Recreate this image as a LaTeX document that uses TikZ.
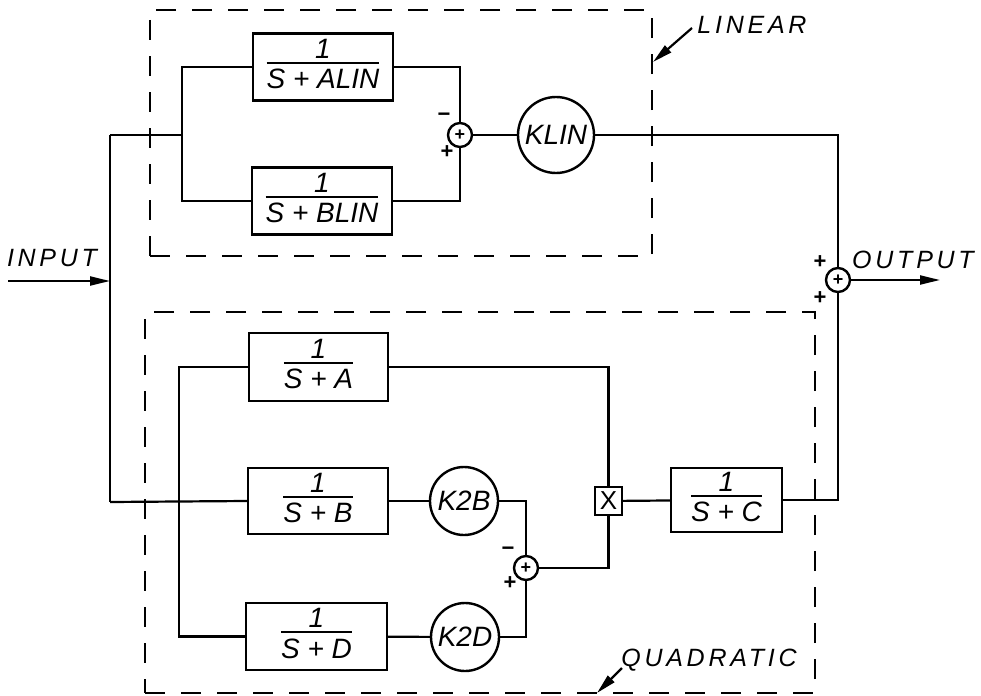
\documentclass[tikz,border=0pt]{standalone}
\usepackage{fontspec}
\setmainfont{Liberation Sans}
\newfontfamily\labfont[LetterSpace=15]{Liberation Sans}
\usetikzlibrary{arrows.meta}
\setlength{\arrayrulewidth}{1pt}
\newcommand{\frc}[1]{\begin{tabular}{@{}c@{}}1\\[-3pt]\hline\rule{0pt}{12.5pt}#1\end{tabular}}
\begin{document}
\begin{tikzpicture}[x=0.5pt,y=-0.5pt,
  wire/.style={line width=1.1pt},
  blk/.style={draw,line width=1.2pt,inner sep=0pt,font=\fontsize{14}{16}\selectfont\itshape},
  gain/.style={draw,circle,line width=1.2pt,inner sep=0pt,minimum size=#1,font=\fontsize{14}{16}\selectfont\itshape},
  sumj/.style={draw,circle,line width=1.2pt,inner sep=0pt,minimum size=12pt,font=\fontsize{9}{9}\selectfont\bfseries},
  sgn/.style={inner sep=0pt,font=\fontsize{11}{11}\selectfont\bfseries},
  grp/.style={draw,dash pattern=on 10pt off 8pt,line width=1.1pt,inner sep=0pt},
  lab/.style={inner sep=0pt,font=\labfont\fontsize{12.5}{14}\selectfont\itshape},
  arr/.style={-{Triangle[length=10pt,width=4.5pt]},line width=1.1pt}]
\useasboundingbox (0,0) rectangle (981,696);

% group frames
\node[grp,minimum width=251pt,minimum height=123pt] (lin) at (401,133) {};
\node[grp,minimum width=335pt,minimum height=190.5pt] (quad) at (480,502.5) {};

% linear part
\node[blk,minimum width=70pt,minimum height=33.5pt] (alin) at (323,67) {\frc{S + ALIN}};
\node[blk,minimum width=70pt,minimum height=33.5pt] (blin) at (322,201) {\frc{S + BLIN}};
\node[sumj] (s1) at (460,135) {+};
\node[gain=38pt] (klin) at (556,135) {KLIN};
\node[sgn] (s1m) at (444,117) {−};
\node[sgn] (s1p) at (447,152) {+};

% quadratic part
\node[blk,minimum width=69.5pt,minimum height=34pt] (fa) at (318.5,367) {\frc{S + A}};
\node[blk,minimum width=70pt,minimum height=33pt] (fb) at (318,501) {\frc{S + B}};
\node[blk,minimum width=70.5pt,minimum height=33.5pt] (fd) at (316.5,636.5) {\frc{S + D}};
\node[gain=34pt] (k2b) at (464,501) {K2B};
\node[gain=34pt] (k2d) at (465,637) {K2D};
\node[sumj] (s2) at (526,568) {+};
\node[sgn] (s2m) at (508,551) {−};
\node[sgn] (s2p) at (510,583) {+};
\node[blk,minimum width=13.5pt,minimum height=14pt,font=\fontsize{13}{13}\selectfont] (mx) at (608.5,501) {X};
\node[blk,minimum width=55.5pt,minimum height=32pt] (fc) at (726.5,500) {\frc{S + C}};

% output summer
\node[sumj] (s3) at (838,280) {+};
\node[sgn] (s3a) at (820,262) {+};
\node[sgn] (s3b) at (820,298) {+};

% labels
\node[lab] (inlab) at (52,258) {INPUT};
\node[lab] (outlab) at (913,260) {OUTPUT};
\node[lab] (linlab) at (752,25) {LINEAR};
\node[lab] (quadlab) at (709,660) {QUADRATIC};

% coordinates
\coordinate (inL) at (8,281);
\coordinate (inJ) at (110,281);
\coordinate (top) at (110,135);
\coordinate (bot) at (110,502);
\coordinate (br1) at (182,135);
\coordinate (br2) at (179,502);
\coordinate (outR) at (940,280);
\coordinate (linA) at (692,28);
\coordinate (linB) at (653,62);
\coordinate (quadA) at (622,668);
\coordinate (quadB) at (597,693);

% connectors
\draw[arr] (inL) -- (inJ);
\draw[wire] (top) -- (bot);
\draw[wire] (top) -- (br1);
\draw[wire] (alin.west) -| (br1) |- (blin.west);
\draw[wire] (alin.east) -| (s1.north);
\draw[wire] (blin.east) -| (s1.south);
\draw[wire] (s1) -- (klin);
\draw[wire] (klin.east) -| (s3.north);
\draw[arr] (s3.east) -- (outR);

\draw[wire] (bot) -- (fb.west);
\draw[wire] (fa.west) -| (br2) |- (fd.west);
\draw[wire] (fa.east) -| (mx.north);
\draw[wire] (fb) -- (k2b);
\draw[wire] (fd) -- (k2d);
\draw[wire] (k2b.east) -| (s2.north);
\draw[wire] (k2d.east) -| (s2.south);
\draw[wire] (s2.east) -| (mx.south);
\draw[wire] (mx) -- (fc);
\draw[wire] (fc.east) -| (s3.south);

\draw[arr] (linA) -- (linB);
\draw[arr] (quadA) -- (quadB);
\end{tikzpicture}
\end{document}
